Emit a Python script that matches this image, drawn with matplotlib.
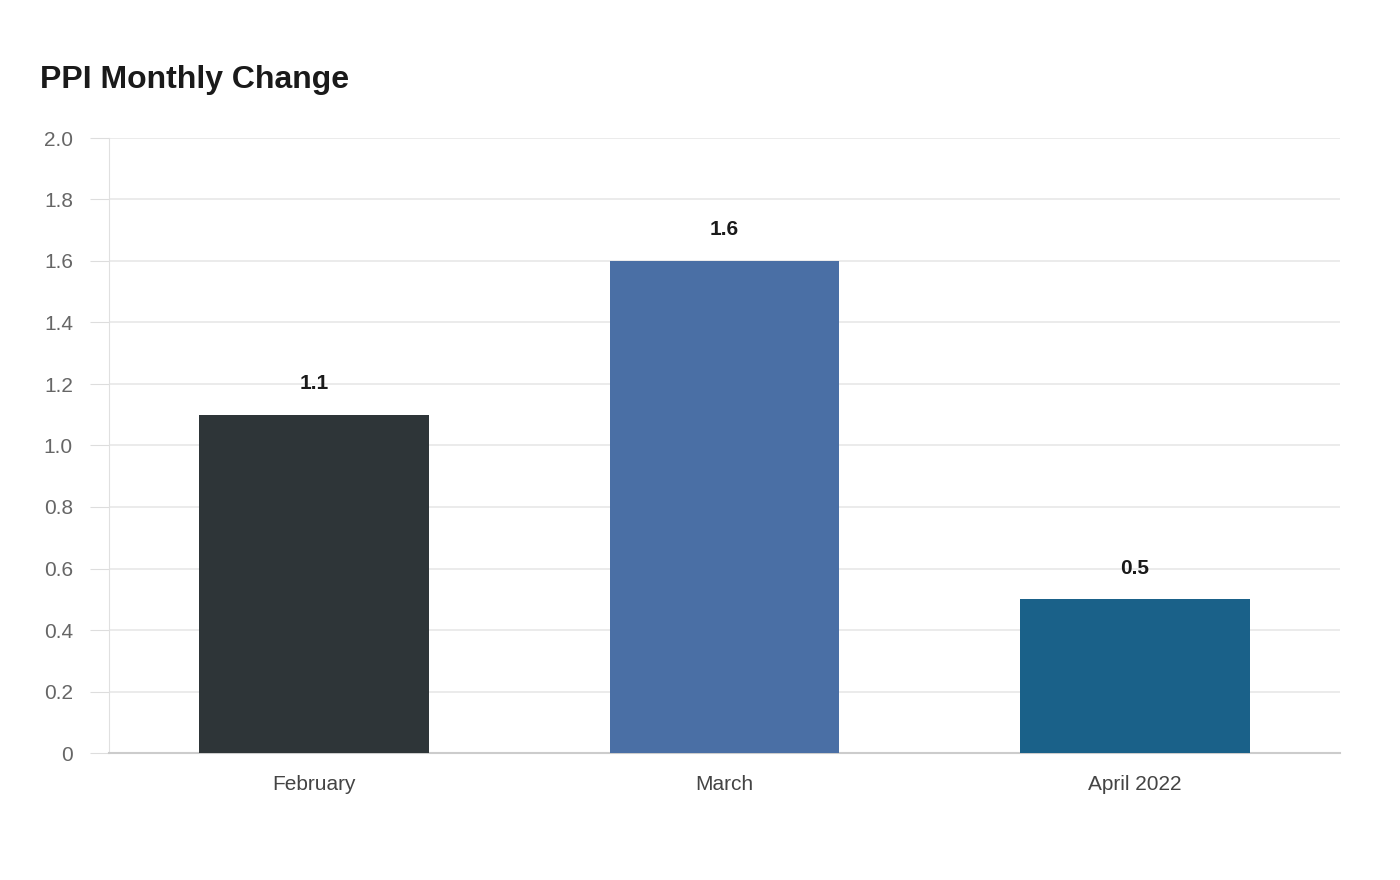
import matplotlib
matplotlib.use("Agg")
import matplotlib.pyplot as plt

categories = ["February", "March", "April 2022"]
values = [1.1, 1.6, 0.5]
colors = ["#2e3538", "#4a6fa5", "#1a6189"]
yticks = [0, 0.2, 0.4, 0.6, 0.8, 1.0, 1.2, 1.4, 1.6, 1.8, 2.0]
ylabels = ["0", "0.2", "0.4", "0.6", "0.8", "1.0", "1.2", "1.4", "1.6", "1.8", "2.0"]

plt.rcParams['font.family'] = ['Liberation Sans', 'DejaVu Sans']
fig = plt.figure(figsize=(14, 8.8), dpi=100)
ax = fig.add_axes([109/1400, 1-753/880, (1340-109)/1400, (753-138)/880])
x = range(len(categories))
ax.bar(x, values, width=0.56, color=colors, zorder=3)
for i, v in zip(x, values):
    ax.text(i, v + 0.07, f"{v}", ha="center", va="bottom", fontsize=15, fontweight="bold", color="#1a1a1a")
ax.set_xlim(-0.5, 2.5)
ax.set_ylim(0, 2.0)
ax.set_yticks(yticks)
ax.set_yticklabels(ylabels, fontsize=15, color="#666666")
ax.set_xticks(list(x))
ax.set_xticklabels(categories, fontsize=15, color="#444444")
ax.tick_params(axis="x", length=0, pad=16)
ax.tick_params(axis="y", length=14, color="#dddddd", pad=12)
ax.grid(axis="y", color="#e8e8e8", linewidth=1.2, zorder=0)
for s in ["top", "right"]:
    ax.spines[s].set_visible(False)
ax.spines["left"].set_color("#e0e0e0")
ax.spines["bottom"].set_color("#cccccc")
ax.spines["bottom"].set_linewidth(1.5)
fig.text(40/1400, 1-80/880, "PPI Monthly Change", fontsize=23, fontweight="bold", color="#1a1a1a", va="center", ha="left")
fig.savefig("out.png", dpi=100, facecolor="white")
